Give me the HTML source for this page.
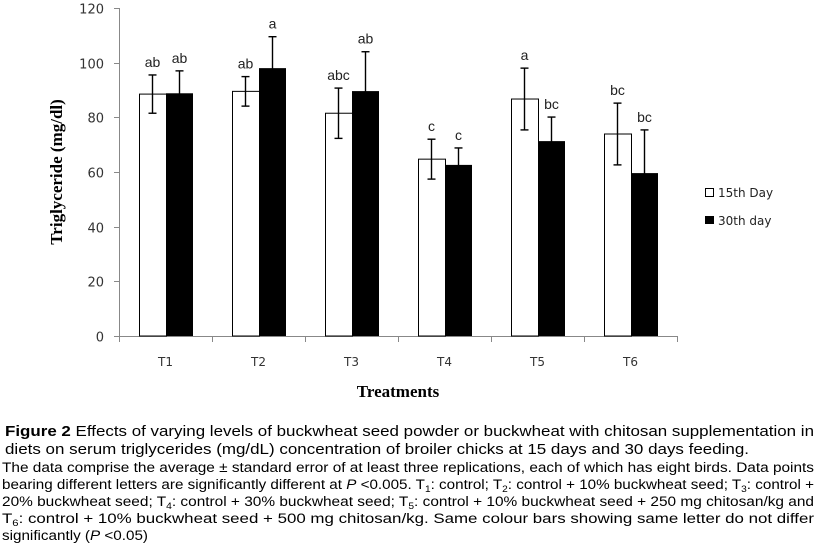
<!DOCTYPE html>
<html><head><meta charset="utf-8"><style>
html,body{margin:0;padding:0;background:#fff;}
svg{display:block;}
</style></head><body>
<svg id="chart" width="818" height="548" xmlns="http://www.w3.org/2000/svg" font-family="Liberation Sans, sans-serif">
<g id="axes"></g><g id="bars"></g><g id="labels"></g>
<text transform="translate(62,172) rotate(-90)" text-anchor="middle" font-family="Liberation Serif, serif" font-weight="bold" font-size="17">Triglyceride (mg/dl)</text>
<text x="398" y="397" text-anchor="middle" font-family="Liberation Serif, serif" font-weight="bold" font-size="17">Treatments</text>
<g>
<rect x="705.5" y="188.5" width="8" height="8" fill="#fff" stroke="#000"/>
<text x="718" y="197" font-family="DejaVu Sans, sans-serif" font-size="12" fill="#222">15th Day</text>
<rect x="705" y="216" width="9" height="8" fill="#000"/>
<text x="718" y="225" font-family="DejaVu Sans, sans-serif" font-size="12" fill="#222">30th day</text>
</g>
<g font-size="15">
<text x="5" y="436" textLength="809" lengthAdjust="spacingAndGlyphs"><tspan font-weight="bold">Figure 2</tspan> Effects of varying levels of buckwheat seed powder or buckwheat with chitosan supplementation in</text>
<text x="5" y="454" textLength="744" lengthAdjust="spacingAndGlyphs">diets on serum triglycerides (mg/dL) concentration of broiler chicks at 15 days and 30 days feeding.</text>
<text x="2" y="472" font-size="13.5" textLength="812" lengthAdjust="spacingAndGlyphs">The data comprise the average ± standard error of at least three replications, each of which has eight birds. Data points</text>
<text x="2" y="489" font-size="13.5" textLength="812" lengthAdjust="spacingAndGlyphs">bearing different letters are significantly different at <tspan font-style="italic">P</tspan> &lt;0.005. T<tspan font-size="9" dy="3">1</tspan><tspan dy="-3">: control; T</tspan><tspan font-size="9" dy="3">2</tspan><tspan dy="-3">: control + 10% buckwheat seed; T</tspan><tspan font-size="9" dy="3">3</tspan><tspan dy="-3">: control +</tspan></text>
<text x="2" y="506" font-size="13.5" textLength="812" lengthAdjust="spacingAndGlyphs">20% buckwheat seed; T<tspan font-size="9" dy="3">4</tspan><tspan dy="-3">: control + 30% buckwheat seed; T</tspan><tspan font-size="9" dy="3">5</tspan><tspan dy="-3">: control + 10% buckwheat seed + 250 mg chitosan/kg and</tspan></text>
<text x="2" y="523" font-size="13.5" textLength="812" lengthAdjust="spacingAndGlyphs">T<tspan font-size="9" dy="3">6</tspan><tspan dy="-3">:  control  +  10%  buckwheat  seed  +  500  mg  chitosan/kg.  Same  colour  bars  showing  same  letter  do  not  differ</tspan></text>
<text x="2" y="540" font-size="13.5" textLength="146" lengthAdjust="spacingAndGlyphs">significantly (<tspan font-style="italic">P</tspan> &lt;0.05)</text>
</g>
</svg>
<script>
const categories = ["T1","T2","T3","T4","T5","T6"];
const day15 = [88.5, 89.5, 81.5, 64.7, 86.7, 73.9];
const day15Err = [7.0, 5.4, 9.2, 7.3, 11.3, 11.3];
const day15Letters = ["ab","ab","abc","c","a","bc"];
const day30 = [88.8, 98.0, 89.6, 62.6, 71.3, 59.6];
const day30Err = [8.2, 11.5, 14.4, 6.2, 8.8, 15.8];
const day30Letters = ["ab","a","ab","c","bc","bc"];
const yTicks = [0,20,40,60,80,100,120];

const NS = "http://www.w3.org/2000/svg";
const x0 = 119, x1 = 677, yBase = 336, yTop = 8, yMax = 120;
const catW = (x1 - x0) / categories.length;
const barW = 27;
function yScale(v){ return yBase - (v / yMax) * (yBase - yTop); }
function xCat(i){ return x0 + i * catW; }
function mk(tag, attrs, parent){ const e = document.createElementNS(NS, tag); for (const k in attrs) e.setAttribute(k, attrs[k]); parent.appendChild(e); return e; }

const axes = document.getElementById('axes');
const bars = document.getElementById('bars');
const labels = document.getElementById('labels');

let yl = mk('line', {x1:x0+0.5, y1:yTop, x2:x0+0.5, y2:yBase, stroke:'#888'}, axes);


let xl = mk('line', {x1:x0, y1:yBase+0.5, x2:x1, y2:yBase+0.5, stroke:'#888'}, axes);



yTicks.forEach(t => {
  const y = Math.round(yScale(t)) + 0.5;
  mk('line', {x1:x0-5, y1:y, x2:x0, y2:y, stroke:'#888'}, axes);
  const tx = mk('text', {x:x0-15, y:y+5, 'text-anchor':'end', 'font-family':'DejaVu Sans, sans-serif', 'font-size':'13', fill:'#333'}, axes);
  tx.textContent = t;
  
  
});
for (let i = 0; i <= categories.length; i++) {
  const x = Math.round(xCat(i)) + 0.5;
  mk('line', {x1:x, y1:yBase, x2:x, y2:yBase+6, stroke:'#888'}, axes);
}
categories.forEach((c, i) => {
  const tx = mk('text', {x:xCat(i)+catW/2, y:yBase+30, 'text-anchor':'middle', 'font-family':'DejaVu Sans, sans-serif', 'font-size':'12', fill:'#333'}, axes);
  tx.textContent = c;
  
  

  const bx1 = xCat(i) + 20, bx2 = bx1 + barW;
  const y1 = yScale(day15[i]), y2 = yScale(day30[i]);
  const r1 = mk('rect', {x:bx1+0.5, y:y1, width:barW, height:yBase-y1, fill:'#fff', stroke:'#000', 'stroke-width':1}, bars);
  
  
  const r2 = mk('rect', {x:bx2, y:y2, width:barW, height:yBase-y2, fill:'#000'}, bars);
  
  

  [[bx1+barW/2, day15[i], day15Err[i], '#000'], [bx2+barW/2, day30[i], day30Err[i], '#000']].forEach(([cx, v, e, col], k) => {
    const g = mk('g', {stroke:col, 'stroke-width':1.4}, bars);
    
    
    const yt = yScale(v + e), yb = yScale(v - e);
    mk('line', {x1:cx, y1:yt, x2:cx, y2:yb}, g);
    mk('line', {x1:cx-4, y1:yt, x2:cx+4, y2:yt}, g);
    mk('line', {x1:cx-4, y1:yb, x2:cx+4, y2:yb}, g);
  });

  const l1 = mk('text', {x:bx1+barW/2, y:yScale(day15[i]+day15Err[i])-8, 'text-anchor':'middle', 'font-size':'14', fill:'#222'}, labels);
  l1.textContent = day15Letters[i];
  
  
  const l2 = mk('text', {x:bx2+barW/2, y:yScale(day30[i]+day30Err[i])-8, 'text-anchor':'middle', 'font-size':'14', fill:'#222'}, labels);
  l2.textContent = day30Letters[i];
  
  
});
</script>
</body></html>
